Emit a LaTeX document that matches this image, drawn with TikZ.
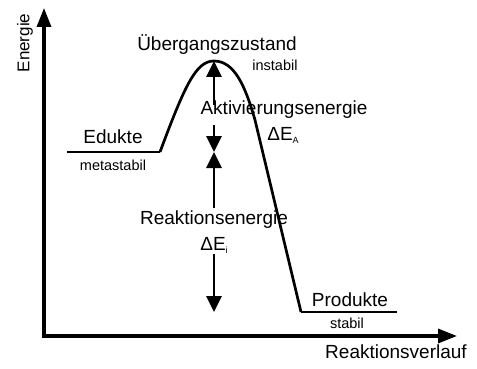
\documentclass[tikz,border=0pt]{standalone}
\usepackage{fontspec}
\setmainfont{Liberation Sans}
\usetikzlibrary{arrows.meta,positioning}

\begin{document}
\begin{tikzpicture}
		[x=1pt,y=-1pt,
		big/.style={draw=none,fill=none,inner sep=0pt,font=\fontsize{19}{22}\selectfont},
		small/.style={draw=none,fill=none,inner sep=0pt,font=\fontsize{14.5}{17}\selectfont},
		axis/.style={line width=3.4pt,-{Triangle[length=19pt,width=14pt]}},
		level/.style={line width=2.5pt},
		energy/.style={line width=2.8pt,-{Triangle[length=16pt,width=15pt]}}]
		\def \subtxt #1{{\fontsize{9}{9}\selectfont\raisebox{-3pt}{#1}}}
		\useasboundingbox (0,0) rectangle (477,369);
		
		\coordinate (o) at (44,336);
		\coordinate (ytip) at (44,8);
		\coordinate (xtip) at (457,336);
		
		\coordinate (ed1) at (67,152);
		\coordinate (ed2) at (160,152);
		\coordinate (ts) at (214,61);
		\coordinate (ds) at (255,120);
		\coordinate (pr1) at (301,312);
		\coordinate (pr2) at (397,312);
		
		\coordinate (a1) at (214,105);
		\coordinate (a2) at (214,125);
		\coordinate (eb) at (214,152);
		\coordinate (r1) at (214,208);
		\coordinate (r2) at (214,254);
		\coordinate (pb) at (214,312);
		
		\node[big,rotate=90,font=\fontsize{17}{19}\selectfont] (energie) at (25,43) {Energie};
		\node[big] (verlauf) at (396,352) {Reaktionsverlauf};
		\node[big] (ts label) at (217,45) {Übergangszustand};
		\node[small] (instabil) at (275,65) {instabil};
		\node[big] (edukte) at (113,137) {Edukte};
		\node[small] (metastabil) at (113,165) {metastabil};
		\node[big] (produkte) at (350,300) {Produkte};
		\node[small] (stabil) at (347,323) {stabil};
		\node[big] (akt) at (284,110) {Aktivierungsenergie};
		\node[big] (dea) at (283,135) {ΔE\subtxt{A}};
		\node[big] (reak) at (214,220) {Reaktionsenergie};
		\node[big] (dei) at (214,245) {ΔE\subtxt{i}};
		
		\draw[axis] (o) -- (ytip);
		\draw[axis] ([xshift=-1.7pt]o) -- (xtip);
		
		\draw[level] (ed1) -- (ed2);
		\draw[level] (pr1) -- (pr2);
		\draw[line width=2.7pt,line join=round] (ed2) .. controls (185,85) and (196,61) .. (ts)
			.. controls (234,61) and (245,85) .. (ds) -- (pr1);
		
		\draw[energy] (a1) -- (ts);
		\draw[energy] (a2) -- (eb);
		\draw[energy] (r1) -- (eb);
		\draw[energy] (r2) -- (pb);
		\end{tikzpicture}
\end{document}
